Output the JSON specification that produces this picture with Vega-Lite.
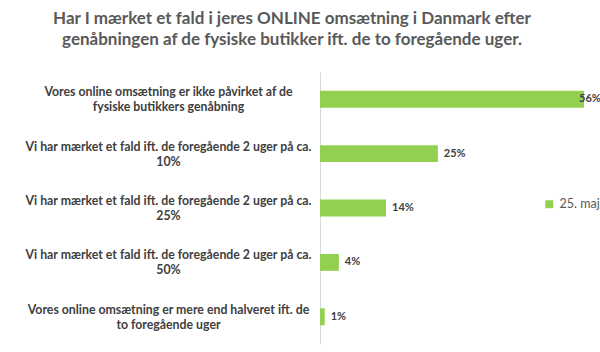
{
  "$schema": "https://vega.github.io/schema/vega-lite/v6.json",
  "autosize": "none",
  "width": 264,
  "height": 272,
  "padding": {"left": 320, "top": 72, "right": 16, "bottom": 8},
  "background": "white",
  "title": {
    "text": ["Har I mærket et fald i jeres ONLINE omsætning i Danmark efter", "genåbningen af de fysiske butikker ift. de to foregående uger."],
    "font": "Lato", "fontSize": 17, "fontWeight": "bold", "color": "#595959",
    "anchor": "middle", "dx": -160, "lineHeight": 21, "offset": 23
  },
  "config": {"view": {"stroke": null}},
  "data": {"values": [
    {"cat": "Vores online omsætning er ikke påvirket af de|fysiske butikkers genåbning", "value": 0.56, "series": "25. maj"},
    {"cat": "Vi har mærket et fald ift. de foregående 2 uger på ca.|10%", "value": 0.25, "series": "25. maj"},
    {"cat": "Vi har mærket et fald ift. de foregående 2 uger på ca.|25%", "value": 0.14, "series": "25. maj"},
    {"cat": "Vi har mærket et fald ift. de foregående 2 uger på ca.|50%", "value": 0.04, "series": "25. maj"},
    {"cat": "Vores online omsætning er mere end halveret ift. de|to foregående uger", "value": 0.01, "series": "25. maj"}
  ]},
  "encoding": {
    "y": {"field": "cat", "type": "nominal",
      "sort": ["Vores online omsætning er ikke påvirket af de|fysiske butikkers genåbning", "Vi har mærket et fald ift. de foregående 2 uger på ca.|10%", "Vi har mærket et fald ift. de foregående 2 uger på ca.|25%", "Vi har mærket et fald ift. de foregående 2 uger på ca.|50%", "Vores online omsætning er mere end halveret ift. de|to foregående uger"],
      "scale": {"paddingInner": 0.69, "paddingOuter": 0.345},
      "axis": {"title": null, "ticks": false, "labelAlign": "center", "labelBaseline": "middle", "labelPadding": 152, "labelOffset": -7,
        "labelExpr": "split(datum.label, '|')", "labelFont": "Lato", "labelFontSize": 12.3, "labelFontWeight": "bold",
        "labelColor": "#404040", "labelLineHeight": 15, "domainColor": "#d9d9d9", "labelLimit": 400}},
    "x": {"field": "value", "type": "quantitative", "scale": {"domain": [0, 0.56]}, "axis": null}
  },
  "layer": [
    {"mark": {"type": "bar"},
     "encoding": {"color": {"field": "series", "type": "nominal", "scale": {"range": ["#92D050"]},
       "legend": {"title": null, "orient": "none", "legendX": 223, "legendY": 126, "symbolType": "square", "symbolSize": 64,
         "labelFont": "Lato", "labelFontSize": 12.5, "labelColor": "#595959", "symbolStrokeWidth": 0}}}},
    {"transform": [{"filter": "datum.value < 0.5"}],
     "mark": {"type": "text", "align": "left", "dx": 6, "font": "Lato", "fontSize": 11, "fontWeight": "bold", "color": "#404040"},
     "encoding": {"text": {"field": "value", "type": "quantitative", "format": ".0%"}}},
    {"transform": [{"filter": "datum.value >= 0.5"}],
     "mark": {"type": "text", "align": "left", "dx": -5, "font": "Lato", "fontSize": 11, "fontWeight": "bold", "color": "#404040"},
     "encoding": {"text": {"field": "value", "type": "quantitative", "format": ".0%"}}}
  ]
}
